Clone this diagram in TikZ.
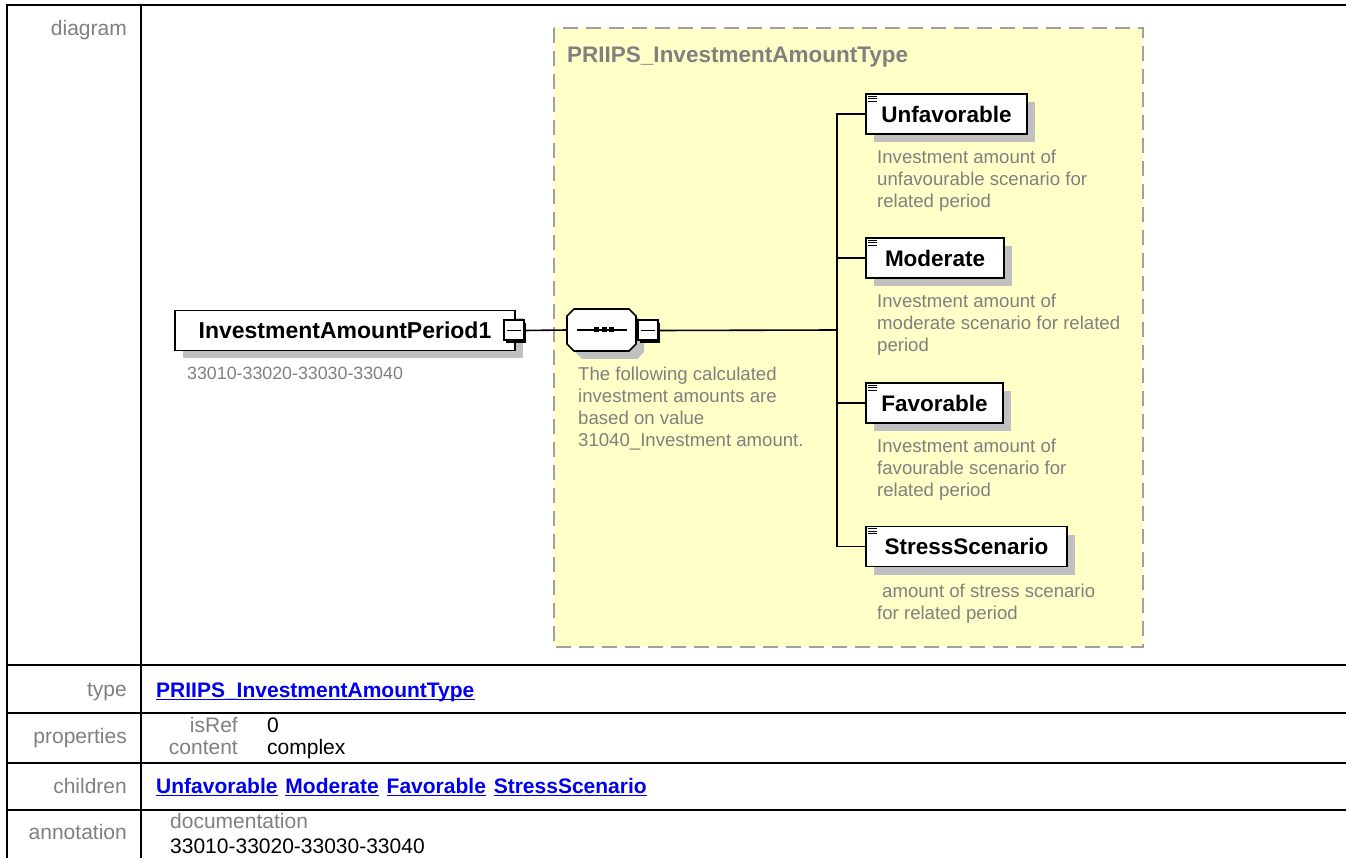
\documentclass[tikz,border=0pt]{standalone}
\usepackage{fontspec}
\setmainfont{Liberation Sans}
\usetikzlibrary{shadows}
\definecolor{dyellow}{HTML}{FFFFC8}
\definecolor{dgray}{HTML}{A0A0A0}
\definecolor{shgray}{HTML}{C0C0C0}
\definecolor{txtgray}{HTML}{808080}
\definecolor{lnk}{HTML}{0000EE}
\begin{document}
\begin{tikzpicture}[x=1pt,y=-1pt,
  elem/.style={draw=black,line width=1.6pt,fill=white,minimum height=40pt,inner sep=0pt,
     font=\fontsize{22.5}{27}\selectfont\bfseries,
     drop shadow={shadow xshift=8pt,shadow yshift=-8pt,fill=shgray,opacity=1}},
  minusbox/.style={draw=black,line width=2pt,fill=white,minimum size=20pt,inner sep=0pt,
     drop shadow={shadow xshift=2.5pt,shadow yshift=-2.5pt,fill=black,opacity=1}},
  desc/.style={anchor=north west,inner sep=0pt,align=left,text=txtgray,font=\fontsize{18.6}{22}\selectfont},
  conn/.style={line width=1.6pt,draw=black},
  lbl/.style={anchor=base east,inner sep=0pt,text=txtgray,font=\fontsize{21}{24}\selectfont},
  val/.style={anchor=base west,inner sep=0pt,font=\fontsize{21}{24}\selectfont},
  lnkt/.style={anchor=base west,inner sep=0pt,text=lnk,font=\fontsize{21}{24}\selectfont\bfseries},
  tabrule/.style={line width=2pt,draw=black},
  uline/.style={draw=lnk,line width=1.5pt},
]
\useasboundingbox (0,0) rectangle (1346,858);
\fill[white] (0,0) rectangle (1346,858);

% table
\draw[tabrule] (7,5) -- (1346,5);
\draw[tabrule] (7,4) -- (7,858);
\draw[tabrule] (141,5) -- (141,858);
\foreach \yy in {665,713,763,810} \draw[tabrule] (7,\yy) -- (1346,\yy);

\node[lbl] (ldiag) at (127,36) {diagram};
\node[lbl] (ltype) at (127,696) {type};
\node[lbl] (lprop) at (127,743.5) {properties};
\node[lbl] (lchild) at (127,793) {children};
\node[lbl] (lann) at (127,839.5) {annotation};

\node[lnkt] (tlink) at (156,697) {PRIIPS\_InvestmentAmountType};
\draw[uline] ([yshift=-2.5pt]tlink.base west) -- ([yshift=-2.5pt]tlink.base east);

\node[lbl] (isref) at (238,732) {isRef};
\node[val] (isrefv) at (267,732) {0};
\node[lbl] (cont) at (238,754.5) {content};
\node[val] (contv) at (267,754.5) {complex};

\node[lnkt] (c1) at (156,793) {Unfavorable};
\node[lnkt] (c2) at ([xshift=7.5pt]c1.base east) {Moderate};
\node[lnkt] (c3) at ([xshift=7.5pt]c2.base east) {Favorable};
\node[lnkt] (c4) at ([xshift=7.5pt]c3.base east) {StressScenario};
\foreach \c in {c1,c2,c3,c4}
  \draw[uline] ([yshift=-2.5pt]\c.base west) -- ([yshift=-2.5pt]\c.base east);

\node[val,text=txtgray] (docl) at (170,828.5) {documentation};
\node[val] (docv) at (170,853.5) {33010-33020-33030-33040};

% complex type box
\fill[dyellow] (554,28) rectangle (1143,647);
\draw[dgray,line width=2pt,dash pattern=on 15pt off 8pt] (554,28) rectangle (1143,647);
\node[anchor=base west,inner sep=0pt,text=txtgray,font=\fontsize{22.5}{27}\selectfont\bfseries] (ttl) at (567,63) {PRIIPS\_InvestmentAmountType};

% main element
\node[elem,minimum width=340pt,font=\fontsize{23}{27}\selectfont\bfseries] (main) at (345,330.5) {InvestmentAmountPeriod1};
\node[minusbox] (mm) at (513.5,330.5) {};
\draw[line width=1.6pt] ([xshift=4pt]mm.west) -- ([xshift=-4pt]mm.east);
\node[desc,anchor=base west,font=\fontsize{17.8}{22}\selectfont] (maind) at (187,379.5) {33010-33020-33030-33040};

% sequence compositor
\fill[shgray] (582,317) -- (637,317) -- (644,324) -- (644,352) -- (637,359) -- (582,359) -- (575,352) -- (575,324) -- cycle;
\filldraw[fill=white,draw=black,line width=1.6pt] (574,309) -- (629,309) -- (636,316) -- (636,344) -- (629,351) -- (574,351) -- (567,344) -- (567,316) -- cycle;
\node[minimum width=69pt,minimum height=42pt,inner sep=0pt] (seq) at (601.5,330) {};
\draw[line width=1.5pt] ([xshift=10pt]seq.west) -- ([xshift=-9pt]seq.east);
\foreach \dx in {-5,2.5,10} \fill ([shift={(\dx,0)}]seq.center) +(-2.5,-2.5) rectangle +(2.5,2.5);
\node[minusbox] (sm) at (647.5,330.5) {};
\draw[line width=1.6pt] ([xshift=4pt]sm.west) -- ([xshift=-4pt]sm.east);
\node[desc] (seqd) at (578,367) {The following calculated\\investment amounts are\\based on value\\31040\_Investment amount.};

\draw[conn] (mm.east) -- (seq.west);

% children
\node[elem,minimum width=161pt] (unf) at (946.5,114) {Unfavorable};
\node[elem,minimum width=138pt] (mod) at (935,258) {Moderate};
\node[elem,minimum width=137pt] (fav) at (934.5,403) {Favorable};
\node[elem,minimum width=201pt] (str) at (966.5,546.5) {StressScenario};
\foreach \n in {unf,mod,fav,str}
  \foreach \d in {3,5.5,8}
    \draw[line width=1.1pt] ([shift={(3,\d)}]\n.north west) -- ++(9,0);

\coordinate (bus) at (837,330);
\draw[conn] (sm.east) -- (bus);
\foreach \n in {unf,mod,fav,str} \draw[conn] (\n.west) -| (bus);

\node[desc] (unfd) at (877,150) {Investment amount of\\unfavourable scenario for\\related period};
\node[desc] (modd) at (877,294) {Investment amount of\\moderate scenario for related\\period};
\node[desc] (favd) at (877,439) {Investment amount of\\favourable scenario for\\related period};
\node[desc] (strd) at (877,584) {\hspace*{5pt}amount of stress scenario\\for related period};
\end{tikzpicture}
\end{document}
